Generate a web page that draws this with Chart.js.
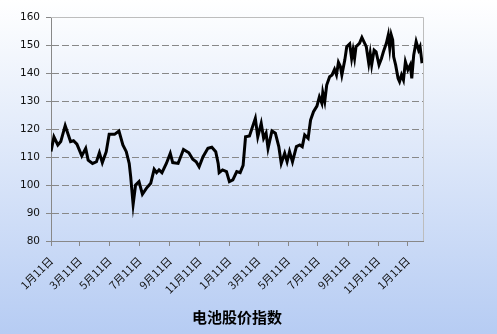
<!DOCTYPE html>
<html>
<head>
<meta charset="utf-8">
<script src="https://cdn.jsdelivr.net/npm/chart.js@4"></script>
<style>
html,body{margin:0;padding:0;}
#wrap{width:497px;height:334px;}
</style>
</head>
<body>
<div id="wrap"><canvas id="c" width="497" height="334"></canvas></div>
<script>
// days since the first date (1月11日)
const dayIndex = [0,6,14,20,29,40,46,53,63,71,76,85,93,99,105,113,119,130,139,147,154,160,163,168,173,180,187,195,204,211,216,221,227,236,244,249,260,271,282,290,297,303,311,321,329,337,342,344,351,359,365,372,380,387,393,398,406,418,423,430,435,440,444,452,459,466,471,478,483,488,494,502,509,514,519,526,531,537,544,549,554,556,560,564,570,575,580,584,588,592,595,601,605,611,615,618,621,624,631,636,640,645,650,653,656,661,665,671,676,680,686,690,693,696,699,701,705,710,713,717,721,725,730,735,738,742,747,752,755,759];
const indexValues = [112,117.2,114.3,115.5,121.2,115.5,115.8,114.6,110.4,113.1,108.9,107.7,108.3,111.5,108,111.9,118.1,118.1,119.3,114.3,111.9,107.7,103,93.1,100,101.2,96.7,98.8,100.6,105.6,104.4,105.4,104.4,107.7,111.3,108,107.7,112.7,111.5,109.2,108.3,106.5,110.1,113.1,113.5,111.9,107.7,104.4,105.4,104.8,101.2,101.8,104.8,104.4,107,117.2,117.5,123.8,117.2,122,116.7,118.5,113.1,119.3,118.5,113.7,107.7,111.3,108.3,111.9,108.3,113.7,114.3,113.7,117.9,116.7,123.2,126.2,128.2,131.5,129.2,133,129.8,135.7,138.7,139.3,141.3,139.3,143.8,142.3,139.3,144.6,149.4,150.4,145.2,148.2,145.2,149.4,150.6,152.7,151.2,149.4,143.5,147,142.9,148.2,147.6,142.9,145.2,147.6,150.6,153.6,148.8,153.6,151.8,145.8,142.9,138.1,136.9,139.3,137.5,144,141.1,142.9,138.1,146.4,151.2,148.2,149.4,143.5];
const tickDays = [0,59,120,181,243,304,365,424,485,546,608,669,730];
const tickLabels = ["1月11日","3月11日","5月11日","7月11日","9月11日","11月11日","1月11日","3月11日","5月11日","7月11日","9月11日","11月11日","1月11日"];
const axisTitle = "电池股价指数";

const points = dayIndex.map((d, i) => ({x: d, y: indexValues[i]}));

const bgPlugin = {
  id: 'bg',
  beforeDraw(chart) {
    const ctx = chart.ctx;
    const g = ctx.createLinearGradient(0, 0, 0, chart.height);
    g.addColorStop(0, '#ffffff');
    g.addColorStop(1, '#b6ccf3');
    ctx.save();
    ctx.fillStyle = g;
    ctx.fillRect(0, 0, chart.width, chart.height);
    ctx.restore();
  },
  afterDatasetsDraw(chart) {
    const a = chart.chartArea;
    const ctx = chart.ctx;
    ctx.save();
    ctx.strokeStyle = '#bdbdbd';
    ctx.lineWidth = 1;
    ctx.beginPath();
    ctx.moveTo(a.left, Math.round(a.top) + 0.5);
    ctx.lineTo(Math.round(a.right) + 0.5, Math.round(a.top) + 0.5);
    ctx.lineTo(Math.round(a.right) + 0.5, a.bottom);
    ctx.stroke();
    ctx.restore();
  }
};

new Chart(document.getElementById('c'), {
  type: 'line',
  data: {
    datasets: [{
      data: points,
      borderColor: '#000000',
      borderWidth: 3,
      pointRadius: 0,
      tension: 0,
      fill: false
    }]
  },
  options: {
    responsive: false,
    animation: false,
    events: [],
    plugins: { legend: {display: false}, tooltip: {enabled: false} },
    layout: { padding: {left: 0, right: 74, top: 17, bottom: 0} },
    scales: {
      x: {
        type: 'linear',
        min: 0,
        max: 761,
        afterBuildTicks(axis) { axis.ticks = tickDays.map(v => ({value: v})); },
        afterFit(axis) { axis.height = 93; },
        grid: { drawOnChartArea: false, drawTicks: true, tickLength: 5, color: '#888888', tickColor: '#888888' },
        border: { display: true, color: '#888888', width: 1 },
        ticks: {
          autoSkip: false,
          maxRotation: 45,
          minRotation: 45,
          padding: 8,
          color: '#111111',
          font: { family: '"Noto Sans CJK SC", "DejaVu Sans", sans-serif', size: 11 },
          callback: (v, i) => tickLabels[i]
        },
        title: {
          display: true,
          text: axisTitle,
          color: '#000000',
          font: { family: '"Noto Sans CJK SC", sans-serif', size: 15, weight: 'bold' },
          padding: { top: 0, bottom: 8 }
        }
      },
      y: {
        min: 80,
        max: 160,
        afterFit(axis) { axis.width = 51; },
        ticks: {
          stepSize: 10,
          padding: 6,
          color: '#111111',
          font: { family: '"DejaVu Sans", sans-serif', size: 10.5 }
        },
        grid: {
          drawTicks: true,
          tickLength: 5,
          tickColor: '#888888',
          lineWidth: 1,
          color: (c) => (c.tick && (c.tick.value === 160 || c.tick.value === 80)) ? 'rgba(0,0,0,0)' : '#888888'
        },
        border: { display: true, color: '#888888', width: 1, dash: [7, 3] }
      }
    }
  },
  plugins: [bgPlugin]
});
</script>
</body>
</html>
